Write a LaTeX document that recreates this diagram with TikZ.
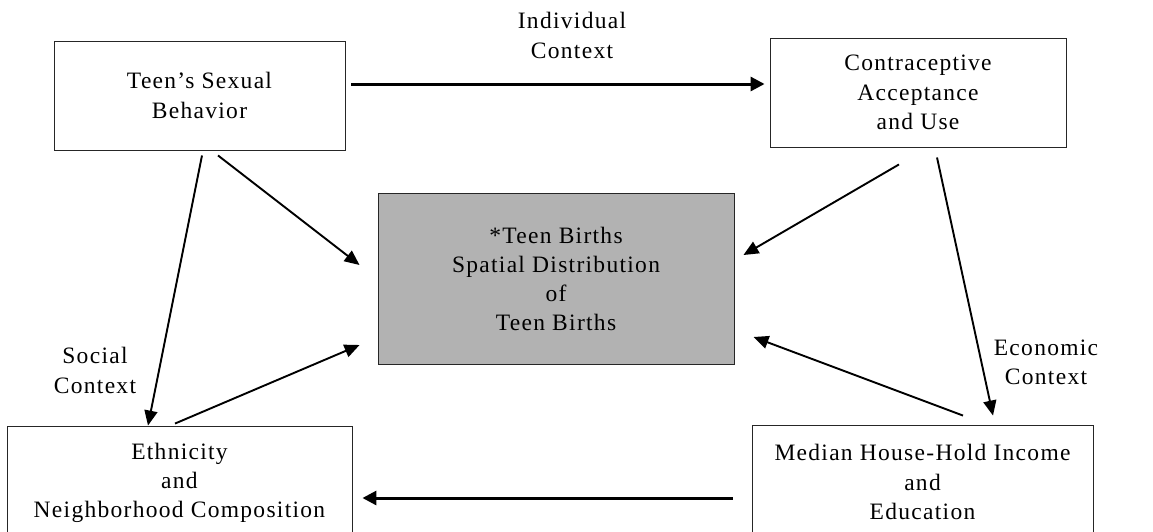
\documentclass[tikz,border=0pt]{standalone}
\usepackage{fontspec}
\setmainfont[LetterSpace=5.5]{Liberation Serif}
\usetikzlibrary{arrows.meta,calc}
\definecolor{birthgray}{RGB}{178,178,178}

\begin{document}
\begin{tikzpicture}[x=1pt,y=-1pt,
        every node/.style={font=\fontsize{23.5}{29.2}\selectfont},
        box/.style={draw=black!85, line width=0.9pt, align=center, inner sep=0pt},
        lbl/.style={align=center, inner sep=0pt},
        link/.style={line width=1.9pt, -{Triangle[length=15pt,width=13pt]}},
        flow/.style={line width=3pt, -{Triangle[length=14pt,width=14pt]}}]

    \useasboundingbox (0,0) rectangle (1153,531);

    % Boxes
    \node[box, minimum width=291pt, minimum height=109pt] (sexual) at (199.5,95.5) {Teen's Sexual\\Behavior};
    \node[box, minimum width=296pt, minimum height=109pt] (contra) at (918,92.5) {Contraceptive\\Acceptance\\and Use};
    \node[box, fill=birthgray, minimum width=356pt, minimum height=171pt] (births) at (556,279) {*Teen Births\\Spatial Distribution\\of\\Teen Births};
    \node[box, minimum width=345pt, minimum height=114pt] (ethnic) at (179.5,483) {Ethnicity\\and\\Neighborhood Composition};
    \node[box, minimum width=341pt, minimum height=114pt] (income) at (922.5,482) {Median House-Hold Income\\and\\Education};

    % Contexts
    \node[lbl] (indiv) at (572,35.5) {Individual\\Context};
    \node[lbl] (social) at (95,370.5) {Social\\Context};
    \node[lbl] (econ) at (1046,362.5) {Economic\\Context};

    % Arrows
    \draw[flow] ($(sexual.east)+(6,-11.5)$) -- ($(contra.west)+(-5,-8.5)$);
    \draw[flow] ($(income.west)+(-19,16)$) -- ($(ethnic.east)+(10,15)$);
    \draw[link] ($(sexual.south)+(18.5,5)$) -- ($(births.west)+(-18,-14)$);
    \draw[link] ($(sexual.south)+(2.5,5)$) -- ($(ethnic.north)+(-31.5,0)$);
    \draw[link] ($(ethnic.north)+(-4.5,-2)$) -- ($(births.west)+(-18,66)$);
    \draw[link] ($(contra.south)+(-19,17)$) -- ($(births.east)+(9,-24)$);
    \draw[link] ($(contra.south)+(19,10)$) -- ($(income.north)+(70.5,-9)$);
    \draw[link] ($(income.north)+(40.5,-9)$) -- ($(births.east)+(19,58)$);
\end{tikzpicture}
\end{document}
